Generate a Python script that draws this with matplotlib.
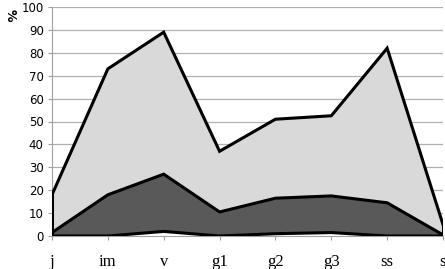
import numpy as np
import matplotlib.pyplot as plt

categorias = ["j", "im", "v", "g1", "g2", "g3", "ss", "s"]
serie_clara = [18, 73, 89, 37, 51, 52.5, 82, 5]
serie_oscura = [1.5, 18, 27, 10.5, 16.5, 17.5, 14.5, 0.5]
serie_blanca = [0, 0, 2, 0, 1, 1.5, 0, 0]

x = np.arange(len(categorias))

fig = plt.figure(figsize=(4.45, 2.69), dpi=100)
ax = fig.add_axes([52 / 445, 1 - 236 / 269, (443 - 52) / 445, (236 - 7) / 269])

# Areas superpuestas (no apiladas)
for valores, color in [(serie_clara, '#d9d9d9'), (serie_oscura, '#595959'), (serie_blanca, 'white')]:
    ax.fill_between(x, 0, valores, facecolor=color, edgecolor='none', zorder=2)
    ax.plot(x, valores, color='black', linewidth=2.2, zorder=3, solid_joinstyle='miter')
# bordes verticales en los extremos
for valores in [serie_clara, serie_oscura]:
    ax.plot([x[0], x[0]], [0, valores[0]], color='black', linewidth=2.2, zorder=3)
    ax.plot([x[-1], x[-1]], [0, valores[-1]], color='black', linewidth=2.2, zorder=3)

ax.set_xlim(x[0], x[-1])
ax.set_ylim(0, 100)
ax.set_yticks(range(0, 101, 10))
ax.set_xticks(x)
ax.set_xticklabels(categorias, family='Liberation Serif', fontsize=12)
ax.tick_params(axis='y', labelsize=8.5, length=3, color='#a0a0a0', pad=3)
ax.tick_params(axis='x', length=3, color='#a0a0a0', pad=10)
ax.grid(axis='y', color='#b0b0b0', linewidth=0.9, zorder=0)
ax.set_axisbelow(True)

for lado in ['top', 'right']:
    ax.spines[lado].set_visible(False)
ax.spines['left'].set_color('#a0a0a0')
ax.spines['bottom'].set_color('#a0a0a0')
ax.spines['left'].set_zorder(1)

fig.text(10 / 445, 1 - 15 / 269, '%', rotation=-90, fontsize=9, fontweight='bold', va='center', ha='center')

fig.savefig('out.png', dpi=100)
